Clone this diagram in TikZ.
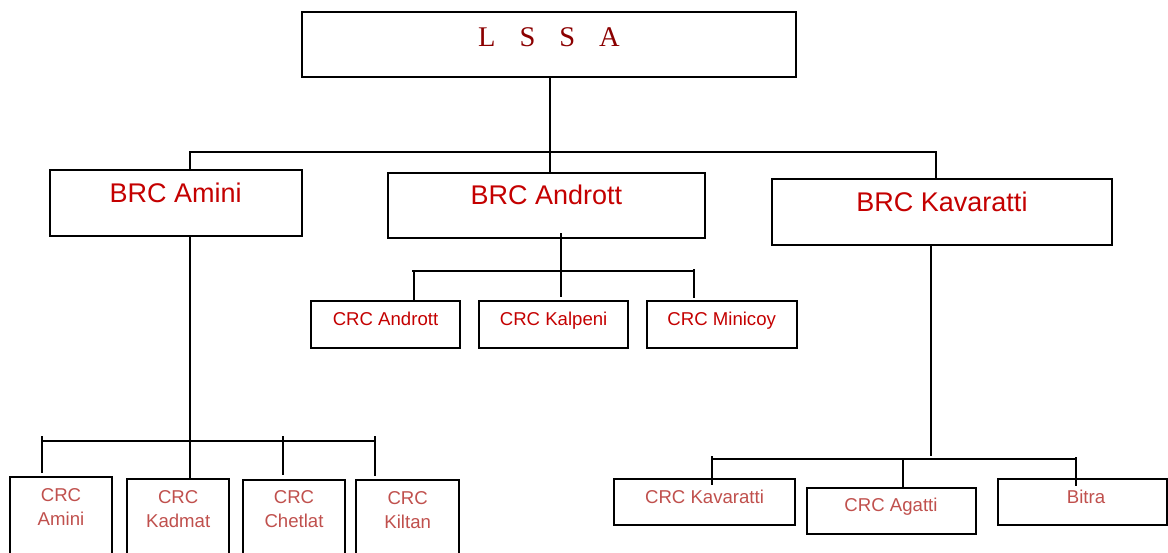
\documentclass[tikz,border=0pt]{standalone}
\usepackage{fontspec}
\setmainfont{Liberation Sans}
\newfontfamily\serifLS{Liberation Serif}
\definecolor{lssared}{HTML}{8B0000}
\definecolor{brcred}{HTML}{C40000}
\definecolor{crcred}{HTML}{C0504D}
\begin{document}
\begin{tikzpicture}[x=1pt,y=-1pt,line width=2pt,
  box/.style={draw=black,rectangle,inner sep=0pt},
  lsstxt/.style={anchor=base,text=lssared,inner sep=0pt,font=\serifLS\fontsize{28.5}{30}\selectfont},
  brctxt/.style={anchor=base,text=brcred,inner sep=0pt,font=\fontsize{27}{30}\selectfont},
  midtxt/.style={anchor=base,text=brcred,inner sep=0pt,font=\fontsize{18.6}{22}\selectfont},
  lowtxt/.style={anchor=base,text=crcred,inner sep=0pt,font=\fontsize{18.6}{22}\selectfont},
  twotxt/.style={anchor=center,align=center,text=crcred,inner sep=0pt,font=\fontsize{18.6}{24.5}\selectfont}]
\clip (0,0) rectangle (1168,552);
\fill[white] (0,0) rectangle (1168,552);

% boxes
\node[box,minimum width=494,minimum height=65] (lssa) at (549,44.5) {};
\node[box,minimum width=252,minimum height=66] (amini) at (176,203) {};
\node[box,minimum width=317,minimum height=65] (andrott) at (546.5,205) {};
\node[box,minimum width=340,minimum height=66] (kav) at (942,212) {};

\node[box,minimum width=149,minimum height=47] (candrott) at (385.5,324) {};
\node[box,minimum width=149,minimum height=47] (ckalpeni) at (553.5,324) {};
\node[box,minimum width=150,minimum height=47] (cminicoy) at (722,324) {};

\node[box,minimum width=102,minimum height=100] (camini) at (61,527) {};
\node[box,minimum width=102,minimum height=100] (ckadmat) at (178,529) {};
\node[box,minimum width=102,minimum height=100] (cchetlat) at (294,529.5) {};
\node[box,minimum width=103,minimum height=100] (ckiltan) at (407.5,530) {};

\node[box,minimum width=181,minimum height=46] (ckav) at (704.5,502) {};
\node[box,minimum width=169,minimum height=46] (cagatti) at (891.5,510.5) {};
\node[box,minimum width=169,minimum height=46] (cbitra) at (1082.5,502) {};

% texts
\node[lsstxt] (lssa-t) at (549,46.5) {L\hspace{0.84em}S\hspace{0.84em}S\hspace{0.84em}A};
\node[brctxt] (amini-t) at (175.6,202.7) {BRC Amini};
\node[brctxt] (andrott-t) at (546.5,204) {BRC Andrott};
\node[brctxt] (kav-t) at (942,211.7) {BRC Kavaratti};

\node[midtxt] (candrott-t) at (385.5,325) {CRC Andrott};
\node[midtxt] (ckalpeni-t) at (553.6,325) {CRC Kalpeni};
\node[midtxt] (cminicoy-t) at (721.7,325) {CRC Minicoy};

\node[twotxt] (camini-t) at (61,507.2) {CRC\\Amini};
\node[twotxt] (ckadmat-t) at (178.2,509.2) {CRC\\Kadmat};
\node[twotxt] (cchetlat-t) at (294,509.2) {CRC\\Chetlat};
\node[twotxt] (ckiltan-t) at (407.7,510.2) {CRC\\Kiltan};

\node[lowtxt] (ckav-t) at (704.5,503) {CRC Kavaratti};
\node[lowtxt] (cagatti-t) at (891,511.7) {CRC Agatti};
\node[lowtxt] (cbitra-t) at (1086,503) {Bitra};

% top level connectors
\coordinate (tM) at (550,152);
\coordinate (tL) at (190,152);
\coordinate (tR) at (936,152);
\draw (lssa.south -| tM) -- (andrott.north -| tM);
\draw (amini.north -| tL) -- (tL) -- (tR) -- (kav.north -| tR);

% Andrott connectors
\coordinate (mM) at (561,233);
\coordinate (mL) at (414,271);
\coordinate (mR) at (694,271);
\coordinate (mRt) at (694,269);
\coordinate (mMe) at (561,297);
\coordinate (mRe) at (694,298);
\draw (mM) -- (mMe);
\draw (412,271) -- (mR);
\draw (mL) -- (candrott.north -| mL);
\draw (mRt) -- (mRe);

% Amini connectors
\coordinate (aB) at (190,441);
\coordinate (a1t) at (42,436);   \coordinate (a1b) at (42,473);
\coordinate (a3t) at (283,436);  \coordinate (a3b) at (283,475);
\coordinate (a4t) at (375,436);  \coordinate (a4b) at (375,476);
\draw (amini.south -| aB) -- (ckadmat.north -| aB);
\draw (41,441) -- (376,441);
\draw (a1t) -- (a1b);
\draw (a3t) -- (a3b);
\draw (a4t) -- (a4b);

% Kavaratti connectors
\coordinate (kV) at (931,459);
\coordinate (k1t) at (712,456);  \coordinate (k1b) at (712,485);
\coordinate (k2) at (903,459);
\coordinate (k3t) at (1076,457);   \coordinate (k3b) at (1076,486);
\draw (kav.south -| kV) -- (931,456);
\draw (712,459) -- (1076,459);
\draw (k1t) -- (k1b);
\draw (k2) -- (cagatti.north -| k2);
\draw (k3t) -- (k3b);
\end{tikzpicture}
\end{document}
